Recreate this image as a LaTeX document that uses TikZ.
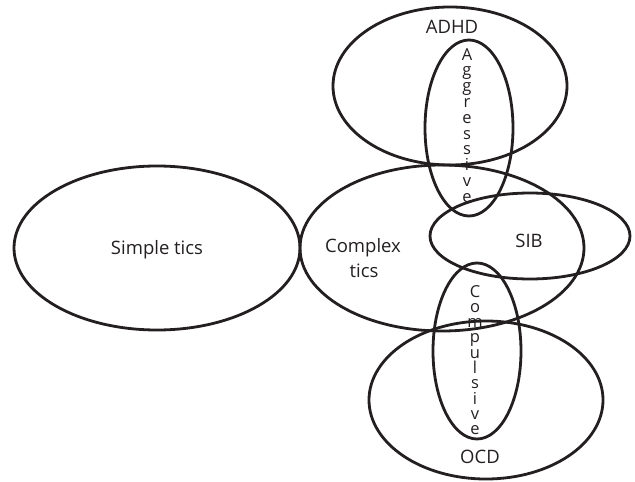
\documentclass[tikz,border=0pt]{standalone}
\usepackage{fontspec}
\setmainfont{Open Sans}
\definecolor{ink}{HTML}{231F20}
\begin{document}
\begin{tikzpicture}[x=1pt,y=-1pt,
  ring/.style={draw=ink,line width=2.8pt},
  lbl/.style={text=ink,font=\fontsize{18.5}{22}\selectfont,anchor=base,inner sep=0pt},
  vlet/.style={text=ink,font=\fontsize{16.5}{18}\selectfont,anchor=base,inner sep=0pt}]
\useasboundingbox (0,0) rectangle (635,482);
% ellipses
\draw[ring] (157,248) ellipse [x radius=143,y radius=82];
\draw[ring] (442,248) ellipse [x radius=142,y radius=83];
\draw[ring] (450,86) ellipse [x radius=117,y radius=79];
\draw[ring] (469,128) ellipse [x radius=44,y radius=88];
\draw[ring] (530,236) ellipse [x radius=100,y radius=43];
\draw[ring] (477,351) ellipse [x radius=44,y radius=88];
\draw[ring] (486,400) ellipse [x radius=117,y radius=79];
% labels
\node[lbl] (simple) at (157,254) {Simple tics};
\node[lbl] (complex1) at (363,252) {Complex};
\node[lbl] (complex2) at (364,277) {tics};
\node[lbl] (adhd) at (452,33) {ADHD};
\node[lbl] (sib) at (529,247) {SIB};
\node[lbl] (ocd) at (480,463) {OCD};
% vertical words
\foreach \c [count=\i from 0] in {A,g,g,r,e,s,s,i,v,e}
  \node[vlet] (agg\i) at (467,{60+15.8*\i}) {\c};
\foreach \c [count=\i from 0] in {C,o,m,p,u,l,s,i,v,e}
  \node[vlet] (comp\i) at (475,{297+15.3*\i}) {\c};
\end{tikzpicture}
\end{document}
